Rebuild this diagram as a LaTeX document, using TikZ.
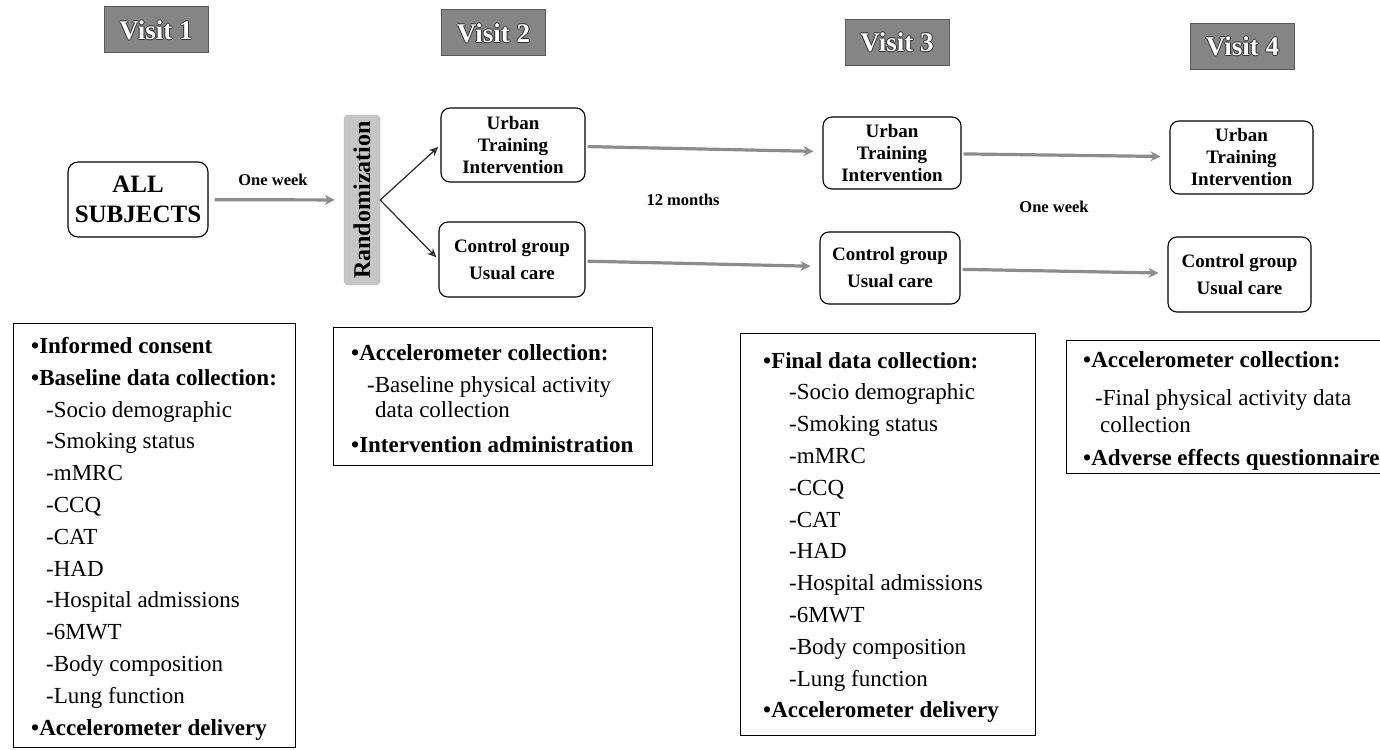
\documentclass[tikz,border=0pt]{standalone}
\usepackage{fontspec}
\setmainfont{Liberation Serif}
\usetikzlibrary{arrows.meta}
\newcommand{\visitlbl}[1]{\rlap{\kern1pt\color{black!80}#1}\rlap{\kern-1pt\color{black!80}#1}\rlap{\color{black!80}\raisebox{1pt}{#1}}\rlap{\color{black!80}\raisebox{-1pt}{#1}}#1}

\begin{document}
\begin{tikzpicture}[x=1pt,y=-1pt,
  visit/.style={fill=black!48, draw=black!65, line width=1pt, minimum width=104pt, minimum height=46pt, inner sep=0pt, text=white, font=\fontsize{27}{27}\selectfont\bfseries},
  grp/.style={draw, rounded corners=9pt, line width=1.1pt, inner sep=0pt, align=center, font=\fontsize{19}{22}\selectfont\bfseries},
  ctl/.style={grp, font=\fontsize{19}{27}\selectfont\bfseries},
  arm/.style={draw=black!45, line width=3.2pt, -{Stealth[length=10pt,width=10pt]}, shorten >=9pt, shorten <=2pt},
  split/.style={draw=black!85, line width=1.2pt, -{Stealth[length=9pt,width=8pt,fill=gray!50]}, shorten >=3pt},
  gap/.style={font=\fontsize{16.5}{16.5}\selectfont\bfseries},
  listbox/.style={draw, line width=0.8pt},
  list/.style={anchor=north west, inner sep=0pt, align=left, font=\fontsize{23}{31.8}\selectfont}]

\useasboundingbox (0,0) rectangle (1380,749);

% visit headers
\node[visit] (v1) at (156,30) {\visitlbl{Visit 1}};
\node[visit] (v2) at (493.5,33) {\visitlbl{Visit 2}};
\node[visit] (v3) at (897,42.5) {\visitlbl{Visit 3}};
\node[visit] (v4) at (1242.5,46.5) {\visitlbl{Visit 4}};

% groups
\node[grp, minimum width=140pt, minimum height=75pt, rounded corners=10pt, font=\fontsize{25}{30}\selectfont\bfseries] (all) at (138,199.5) {ALL\\SUBJECTS};
\node[fill=gray!45, draw=gray!60, rounded corners=4pt, minimum width=36pt, minimum height=170pt, inner sep=0pt, font=\fontsize{24}{24}\selectfont\bfseries] (rand) at (362,200) {\rotatebox{90}{Randomization}};

\node[grp, minimum width=144pt, minimum height=74pt] (ut2) at (513,145) {Urban\\Training\\Intervention};
\node[ctl, minimum width=146pt, minimum height=75pt] (cg2) at (512,259.5) {Control group\\Usual care};
\node[grp, minimum width=138pt, minimum height=72pt] (ut3) at (892,153) {Urban\\Training\\Intervention};
\node[ctl, minimum width=140pt, minimum height=72pt] (cg3) at (890,268) {Control group\\Usual care};
\node[grp, minimum width=143pt, minimum height=73pt] (ut4) at (1241.5,157.5) {Urban\\Training\\Intervention};
\node[ctl, minimum width=143pt, minimum height=75pt] (cg4) at (1239.5,274.5) {Control group\\Usual care};

% arrows
\draw[arm, shorten <=6pt] (all) -- (rand);
\draw[split] (rand.east) -- (ut2.west);
\draw[split] (rand.east) -- (cg2.west);
\draw[arm] (ut2) -- (ut3);
\draw[arm] (cg2) -- (cg3);
\draw[arm] (ut3) -- (ut4);
\draw[arm] (cg3) -- (cg4);

\node[gap] (wk1) at (273,180) {One week};
\node[gap] (mo) at (683,200) {12 months};
\node[gap] (wk2) at (1054,207) {One week};

% data collected at each visit
\draw[listbox] (13,323) rectangle (295,747);
\node[list] (l1) at (31,337) {\textbf{\textbullet Informed consent}\\
\textbf{\textbullet Baseline data collection:}\\
\hspace*{15pt}-Socio demographic\\
\hspace*{15pt}-Smoking status\\
\hspace*{15pt}-mMRC\\
\hspace*{15pt}-CCQ\\
\hspace*{15pt}-CAT\\
\hspace*{15pt}-HAD\\
\hspace*{15pt}-Hospital admissions\\
\hspace*{15pt}-6MWT\\
\hspace*{15pt}-Body composition\\
\hspace*{15pt}-Lung function\\
\textbf{\textbullet Accelerometer delivery}};

\draw[listbox] (333,327) rectangle (652,465);
\node[list, font=\fontsize{23}{30}\selectfont] (l2) at (351,344) {\textbf{\textbullet Accelerometer collection:}\\[2pt]
\hspace*{16pt}-Baseline physical activity\\[-5pt]
\hspace*{24pt}data collection\\[5pt]
\textbf{\textbullet Intervention administration}};

\draw[listbox] (740,333) rectangle (1035,735);
\node[list] (l3) at (763,352) {\textbf{\textbullet Final data collection:}\\
\hspace*{26pt}-Socio demographic\\
\hspace*{26pt}-Smoking status\\
\hspace*{26pt}-mMRC\\
\hspace*{26pt}-CCQ\\
\hspace*{26pt}-CAT\\
\hspace*{26pt}-HAD\\
\hspace*{26pt}-Hospital admissions\\
\hspace*{26pt}-6MWT\\
\hspace*{26pt}-Body composition\\
\hspace*{26pt}-Lung function\\
\textbf{\textbullet Accelerometer delivery}};

\draw[listbox] (1066,340) rectangle (1400,473);
\node[list, font=\fontsize{23}{31}\selectfont] (l4) at (1083,351) {\textbf{\textbullet Accelerometer collection:}\\[7pt]
\hspace*{12pt}-Final physical activity data\\[-4pt]
\hspace*{17pt}collection\\[2pt]
\textbf{\textbullet Adverse effects questionnaire}};
\end{tikzpicture}
\end{document}
